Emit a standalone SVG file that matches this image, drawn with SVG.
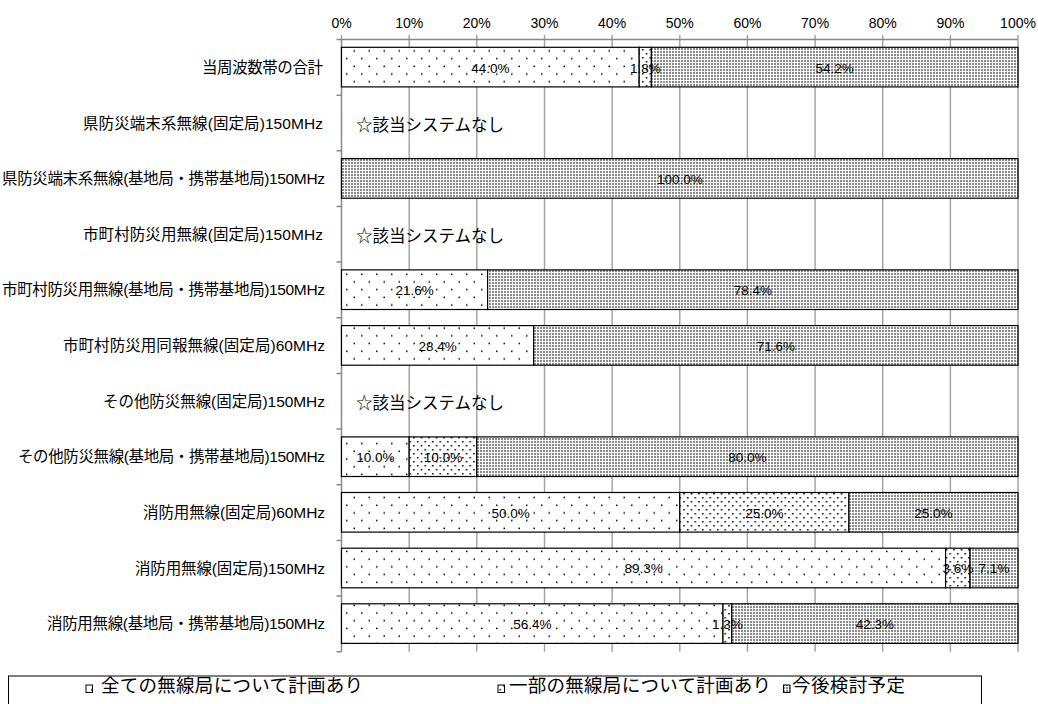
<svg xmlns="http://www.w3.org/2000/svg" width="1038" height="704" viewBox="0 0 1038 704">
<defs>
<pattern id="pAll" patternUnits="userSpaceOnUse" x="341" y="40" width="15" height="15.4">
<rect width="15" height="15.4" fill="#fff"/>
<rect x="5" y="2.5" width="1.5" height="1.5" fill="#000"/>
<rect x="12.5" y="10.2" width="1.5" height="1.5" fill="#000"/>
</pattern>
<pattern id="pPart" patternUnits="userSpaceOnUse" x="341" y="40" width="7.5" height="8">
<rect width="7.5" height="8" fill="#fff"/>
<rect x="1" y="1" width="1.5" height="1.5" fill="#000"/>
<rect x="4.75" y="5" width="1.5" height="1.5" fill="#000"/>
</pattern>
<pattern id="pFut" patternUnits="userSpaceOnUse" x="0" y="0" width="3" height="3">
<rect width="3" height="3" fill="#fff"/>
<rect x="0" y="0" width="2" height="2" fill="#8a8a8a"/>
</pattern>
<style>
text{font-family:"Liberation Sans","Noto Sans CJK JP",sans-serif;fill:#000}
.tick{font-size:14px;text-anchor:middle}
.cat{font-size:15.5px;text-anchor:end}
.val{font-size:13.5px;text-anchor:middle}
.none{font-size:16.5px}
.leg{font-size:18.5px}
.grid{stroke:#a0a0a0;stroke-width:1.4;fill:none}
.axis{stroke:#888;stroke-width:1.5;fill:none}
.seg{stroke:#000;stroke-width:1.2}
.a{fill:url(#pAll)}
.p{fill:url(#pPart)}
.f{fill:url(#pFut)}
</style>
</defs>
<rect width="1038" height="704" fill="#fff"/>

<g id="ticklabels">
<text class="tick" x="341.5" y="28">0%</text>
<text class="tick" x="409.2" y="28">10%</text>
<text class="tick" x="476.8" y="28">20%</text>
<text class="tick" x="544.5" y="28">30%</text>
<text class="tick" x="612.1" y="28">40%</text>
<text class="tick" x="679.8" y="28">50%</text>
<text class="tick" x="747.4" y="28">60%</text>
<text class="tick" x="815.1" y="28">70%</text>
<text class="tick" x="882.7" y="28">80%</text>
<text class="tick" x="950.4" y="28">90%</text>
<text class="tick" x="1018" y="28">100%</text>
</g>

<g id="gridlines">
<path class="grid" d="M409.2 35V651.7M476.8 35V651.7M544.5 35V651.7M612.1 35V651.7M679.8 35V651.7M747.4 35V651.7M815.1 35V651.7M882.7 35V651.7M950.4 35V651.7M1018 35V651.7M341.5 35V39.5"/>
<path class="axis" d="M341.5 39.5H1018"/>
<path class="axis" d="M341.5 39.5V651.7"/>
<path class="axis" d="M336.5 39.5H341.5M336.5 95.2H341.5M336.5 150.8H341.5M336.5 206.5H341.5M336.5 262.1H341.5M336.5 317.8H341.5M336.5 373.4H341.5M336.5 429.1H341.5M336.5 484.7H341.5M336.5 540.4H341.5M336.5 596H341.5M336.5 651.7H341.5"/>
</g>

<g id="row1">
<text class="cat" x="323" y="72.8" textLength="121" lengthAdjust="spacing">当周波数帯の合計</text>
<rect class="seg a" x="341.5" y="47.3" width="297.7" height="39.6"/>
<rect class="seg p" x="639.2" y="47.3" width="12.2" height="39.6"/>
<rect class="seg f" x="651.4" y="47.3" width="366.6" height="39.6"/>
<text class="val" x="490.3" y="72.5">44.0%</text>
<text class="val" x="645.3" y="72.5">1.8%</text>
<text class="val" x="834.7" y="72.5">54.2%</text>
</g>

<g id="row2">
<text class="cat" x="323" y="128.5" textLength="240" lengthAdjust="spacing">県防災端末系無線(固定局)150MHz</text>
<text class="none" x="356" y="131">☆該当システムなし</text>
</g>

<g id="row3">
<text class="cat" x="325" y="184.1" textLength="323" lengthAdjust="spacing">県防災端末系無線(基地局・携帯基地局)150MHz</text>
<rect class="seg f" x="341.5" y="158.6" width="676.5" height="39.6"/>
<text class="val" x="679.8" y="183.8">100.0%</text>
</g>

<g id="row4">
<text class="cat" x="323" y="239.8" textLength="240" lengthAdjust="spacing">市町村防災用無線(固定局)150MHz</text>
<text class="none" x="356" y="242.3">☆該当システムなし</text>
</g>

<g id="row5">
<text class="cat" x="325" y="295.4" textLength="323" lengthAdjust="spacing">市町村防災用無線(基地局・携帯基地局)150MHz</text>
<rect class="seg a" x="341.5" y="269.9" width="146.1" height="39.6"/>
<rect class="seg f" x="487.6" y="269.9" width="530.4" height="39.6"/>
<text class="val" x="414.6" y="295.1">21.6%</text>
<text class="val" x="752.8" y="295.1">78.4%</text>
</g>

<g id="row6">
<text class="cat" x="325" y="351.1" textLength="262" lengthAdjust="spacing">市町村防災用同報無線(固定局)60MHz</text>
<rect class="seg a" x="341.5" y="325.6" width="192.1" height="39.6"/>
<rect class="seg f" x="533.6" y="325.6" width="484.4" height="39.6"/>
<text class="val" x="437.6" y="350.8">28.4%</text>
<text class="val" x="775.8" y="350.8">71.6%</text>
</g>

<g id="row7">
<text class="cat" x="325" y="406.7" textLength="222" lengthAdjust="spacing">その他防災無線(固定局)150MHz</text>
<text class="none" x="356" y="409.2">☆該当システムなし</text>
</g>

<g id="row8">
<text class="cat" x="325" y="462.4" textLength="307" lengthAdjust="spacing">その他防災無線(基地局・携帯基地局)150MHz</text>
<rect class="seg a" x="341.5" y="436.9" width="67.7" height="39.6"/>
<rect class="seg p" x="409.2" y="436.9" width="67.6" height="39.6"/>
<rect class="seg f" x="476.8" y="436.9" width="541.2" height="39.6"/>
<text class="val" x="375.3" y="462.1">10.0%</text>
<text class="val" x="443" y="462.1">10.0%</text>
<text class="val" x="747.4" y="462.1">80.0%</text>
</g>

<g id="row9">
<text class="cat" x="325" y="518" textLength="182" lengthAdjust="spacing">消防用無線(固定局)60MHz</text>
<rect class="seg a" x="341.5" y="492.5" width="338.3" height="39.6"/>
<rect class="seg p" x="679.8" y="492.5" width="169.1" height="39.6"/>
<rect class="seg f" x="848.9" y="492.5" width="169.1" height="39.6"/>
<text class="val" x="510.6" y="517.7">50.0%</text>
<text class="val" x="764.3" y="517.7">25.0%</text>
<text class="val" x="933.4" y="517.7">25.0%</text>
</g>

<g id="row10">
<text class="cat" x="325" y="573.7" textLength="190" lengthAdjust="spacing">消防用無線(固定局)150MHz</text>
<rect class="seg a" x="341.5" y="548.2" width="604.1" height="39.6"/>
<rect class="seg p" x="945.6" y="548.2" width="24.4" height="39.6"/>
<rect class="seg f" x="970" y="548.2" width="48" height="39.6"/>
<text class="val" x="643.6" y="573.4">89.3%</text>
<text class="val" x="957.8" y="573.4">3.6%</text>
<text class="val" x="994" y="573.4">7.1%</text>
</g>

<g id="row11">
<text class="cat" x="325" y="629.3" textLength="278" lengthAdjust="spacing">消防用無線(基地局・携帯基地局)150MHz</text>
<rect class="seg a" x="341.5" y="603.8" width="381.5" height="39.6"/>
<rect class="seg p" x="723" y="603.8" width="8.8" height="39.6"/>
<rect class="seg f" x="731.8" y="603.8" width="286.2" height="39.6"/>
<text class="val" x="532.3" y="629">56.4%</text>
<text class="val" x="727.4" y="629">1.3%</text>
<text class="val" x="874.9" y="629">42.3%</text>
</g>

<g id="legend">
<rect x="8.5" y="676" width="973" height="40" fill="#fff" stroke="#000" stroke-width="1"/>
<rect x="86" y="685" width="6.5" height="7.5" fill="url(#pAll)" stroke="#000" stroke-width="1"/>
<text class="leg" x="101" y="692" textLength="262" lengthAdjust="spacing">全ての無線局について計画あり</text>
<rect x="498" y="685" width="6.5" height="7.5" fill="url(#pPart)" stroke="#000" stroke-width="1"/>
<text class="leg" x="509" y="692" textLength="262" lengthAdjust="spacing">一部の無線局について計画あり</text>
<rect x="783.5" y="685" width="6.5" height="7.5" fill="url(#pFut)" stroke="#000" stroke-width="1"/>
<text class="leg" x="792" y="692" textLength="113" lengthAdjust="spacing">今後検討予定</text>
</g>
</svg>
